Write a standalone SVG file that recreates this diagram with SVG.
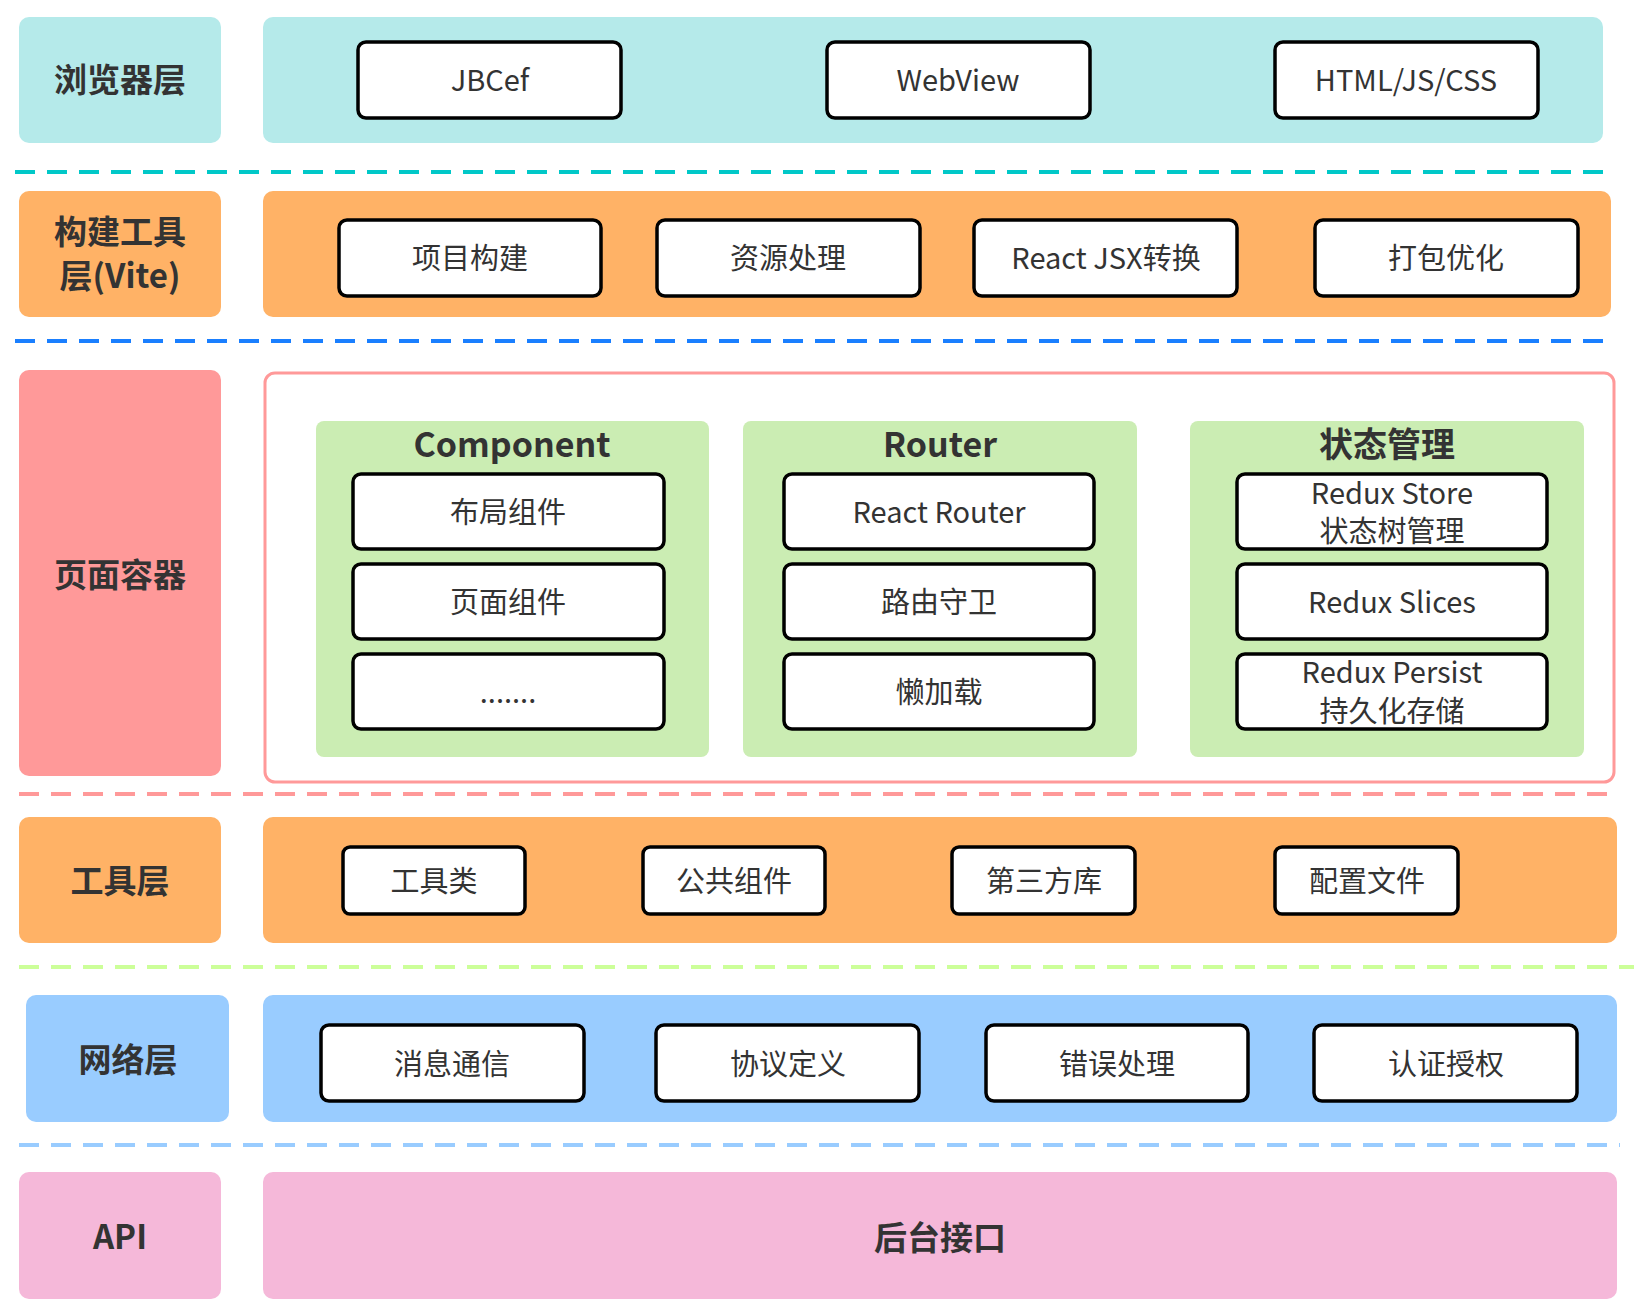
<svg xmlns="http://www.w3.org/2000/svg" width="1634" height="1312" viewBox="0 0 1634 1312">
<style>
text{font-family:"Noto Sans CJK SC","Noto Sans",sans-serif;text-anchor:middle;dominant-baseline:central;fill:#333}
.lab{font-size:33px;font-weight:bold}
.t{font-size:29px}
.ttl{font-size:34px;font-weight:bold}
.b{fill:#fff;stroke:#000;stroke-width:3.5}
.d{stroke-width:4;stroke-dasharray:20 12;fill:none}
</style>
<rect width="1634" height="1312" fill="#fff"/>
<g id="connectors">
<line class="d" x1="15" y1="172" x2="1603" y2="172" stroke="#00c8c8"/>
<line class="d" x1="15" y1="341" x2="1603" y2="341" stroke="#1a7fff"/>
<line class="d" x1="19" y1="794" x2="1611" y2="794" stroke="#ff9999"/>
<line class="d" x1="19" y1="967" x2="1634" y2="967" stroke="#ccff99"/>
<line class="d" x1="19" y1="1145" x2="1620" y2="1145" stroke="#99ccff"/>
</g>
<g id="browser">
<rect x="19" y="17" width="202" height="126" rx="10" fill="#b5eaea"/><text class="lab" x="120" y="78">浏览器层</text>
<rect x="263" y="17" width="1340" height="126" rx="10" fill="#b5eaea"/>
<rect class="b" x="358" y="42" width="263" height="76" rx="8"/><text class="t" x="490" y="78">JBCef</text>
<rect class="b" x="827" y="42" width="263" height="76" rx="8"/><text class="t" x="958" y="78">WebView</text>
<rect class="b" x="1275" y="42" width="263" height="76" rx="8"/><text class="t" x="1406" y="78">HTML/JS/CSS</text>
</g>
<g id="build">
<rect x="19" y="191" width="202" height="126" rx="10" fill="#ffb266"/><text class="lab" x="120" y="230">构建工具</text><text class="lab" x="120" y="274">层(Vite)</text>
<rect x="263" y="191" width="1348" height="126" rx="10" fill="#ffb266"/>
<rect class="b" x="339" y="220" width="262" height="76" rx="8"/><text class="t" x="470" y="256">项目构建</text>
<rect class="b" x="657" y="220" width="263" height="76" rx="8"/><text class="t" x="788" y="256">资源处理</text>
<rect class="b" x="974" y="220" width="263" height="76" rx="8"/><text class="t" x="1106" y="256">React JSX转换</text>
<rect class="b" x="1315" y="220" width="263" height="76" rx="8"/><text class="t" x="1446" y="256">打包优化</text>
</g>
<g id="page">
<rect x="19" y="370" width="202" height="406" rx="10" fill="#ff9999"/><text class="lab" x="120" y="573">页面容器</text>
<rect x="265" y="373" width="1349" height="409" rx="10" fill="#fff" stroke="#ff9999" stroke-width="3"/>
<rect x="316" y="421" width="393" height="336" rx="8" fill="#cbedb3"/><text class="ttl" x="512" y="442">Component</text>
<rect x="743" y="421" width="394" height="336" rx="8" fill="#cbedb3"/><text class="ttl" x="940" y="442">Router</text>
<rect x="1190" y="421" width="394" height="336" rx="8" fill="#cbedb3"/><text class="ttl" x="1387" y="442">状态管理</text>
<rect class="b" x="353" y="474" width="311" height="75" rx="8"/><text class="t" x="508" y="510">布局组件</text>
<rect class="b" x="353" y="564" width="311" height="75" rx="8"/><text class="t" x="508" y="600">页面组件</text>
<rect class="b" x="353" y="654" width="311" height="75" rx="8"/><text class="t" x="508" y="690">.......</text>
<rect class="b" x="784" y="474" width="310" height="75" rx="8"/><text class="t" x="939" y="510">React Router</text>
<rect class="b" x="784" y="564" width="310" height="75" rx="8"/><text class="t" x="939" y="600">路由守卫</text>
<rect class="b" x="784" y="654" width="310" height="75" rx="8"/><text class="t" x="939" y="690">懒加载</text>
<rect class="b" x="1237" y="474" width="310" height="75" rx="8"/><text class="t" x="1392" y="491">Redux Store</text><text class="t" x="1392" y="529">状态树管理</text>
<rect class="b" x="1237" y="564" width="310" height="75" rx="8"/><text class="t" x="1392" y="600">Redux Slices</text>
<rect class="b" x="1237" y="654" width="310" height="75" rx="8"/><text class="t" x="1392" y="670">Redux Persist</text><text class="t" x="1392" y="709">持久化存储</text>
</g>
<g id="tools">
<rect x="19" y="817" width="202" height="126" rx="10" fill="#ffb266"/><text class="lab" x="120" y="879">工具层</text>
<rect x="263" y="817" width="1354" height="126" rx="10" fill="#ffb266"/>
<rect class="b" x="343" y="847" width="182" height="67" rx="7"/><text class="t" x="434" y="879">工具类</text>
<rect class="b" x="643" y="847" width="182" height="67" rx="7"/><text class="t" x="734" y="879">公共组件</text>
<rect class="b" x="952" y="847" width="183" height="67" rx="7"/><text class="t" x="1044" y="879">第三方库</text>
<rect class="b" x="1275" y="847" width="183" height="67" rx="7"/><text class="t" x="1367" y="879">配置文件</text>
</g>
<g id="network">
<rect x="26" y="995" width="203" height="127" rx="10" fill="#99ccff"/><text class="lab" x="128" y="1058">网络层</text>
<rect x="263" y="995" width="1354" height="127" rx="10" fill="#99ccff"/>
<rect class="b" x="321" y="1025" width="263" height="76" rx="8"/><text class="t" x="452" y="1062">消息通信</text>
<rect class="b" x="656" y="1025" width="263" height="76" rx="8"/><text class="t" x="788" y="1062">协议定义</text>
<rect class="b" x="986" y="1025" width="262" height="76" rx="8"/><text class="t" x="1117" y="1062">错误处理</text>
<rect class="b" x="1314" y="1025" width="263" height="76" rx="8"/><text class="t" x="1446" y="1062">认证授权</text>
</g>
<g id="api">
<rect x="19" y="1172" width="202" height="127" rx="10" fill="#f5b8d9"/><text class="lab" x="120" y="1235">API</text>
<rect x="263" y="1172" width="1354" height="127" rx="10" fill="#f5b8d9"/><text class="lab" x="940" y="1236">后台接口</text>
</g>
</svg>
